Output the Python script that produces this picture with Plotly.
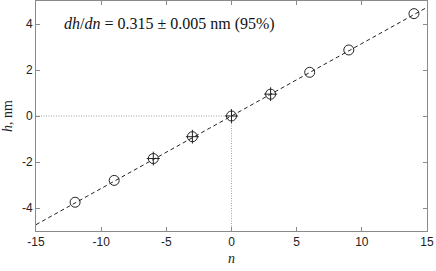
import plotly.graph_objects as go

# data
n_plain = [-12, -9, 6, 9, 14]
h_plain = [-3.75, -2.8, 1.9, 2.87, 4.45]
n_err = [-6, -3, 0, 3]
h_err = [-1.85, -0.9, 0.0, 0.95]
n_err_x = [0.5, 0.5, 0.5, 0.5]
h_err_y = [0.3, 0.3, 0.3, 0.3]
slope = 0.315
fit_n = [-15, 15]
fit_h = [slope * v for v in fit_n]
x_ticks = [-15, -10, -5, 0, 5, 10, 15]
x_ticktext = ["-15", "-10", "-5", "0", "5", "10", "15"]
y_ticks = [-4, -2, 0, 2, 4]
y_ticktext = ["-4", "-2", "0", "2", "4"]

fig = go.Figure()
# dotted reference lines
fig.add_trace(go.Scatter(x=[-15, 0, 0], y=[0, 0, -5], mode="lines",
                         line=dict(color="#777777", width=0.7, dash="1px,1.5px"),
                         showlegend=False, hoverinfo="skip"))
# fit line
fig.add_trace(go.Scatter(x=fit_n, y=fit_h, mode="lines",
                         line=dict(color="#222222", width=1, dash="4px,3px"),
                         showlegend=False))
# plain points
fig.add_trace(go.Scatter(x=n_plain, y=h_plain, mode="markers",
                         marker=dict(symbol="circle-open", size=10,
                                     color="#222222", line=dict(width=1)),
                         showlegend=False))
# points with error bars
fig.add_trace(go.Scatter(x=n_err, y=h_err, mode="markers",
                         marker=dict(symbol="circle-open", size=10,
                                     color="#222222", line=dict(width=1)),
                         error_x=dict(type="data", array=n_err_x, width=0,
                                      thickness=1, color="#222222"),
                         error_y=dict(type="data", array=h_err_y, width=0,
                                      thickness=1, color="#222222"),
                         showlegend=False))

fig.add_annotation(x=0.066, y=0.9, xref="paper", yref="paper",
                   xanchor="left", yanchor="middle", showarrow=False,
                   text="<i>dh</i>/<i>dn</i> = 0.315 ± 0.005 nm (95%)",
                   font=dict(family="Liberation Serif", size=16, color="#111111"))

axis_common = dict(showgrid=False, zeroline=False, showline=True, mirror="ticks",
                   linecolor="#8a8a8a", linewidth=1, ticks="inside", ticklen=4,
                   tickcolor="#8a8a8a", ticklabeloverflow="allow",
                   tickfont=dict(family="Liberation Sans", size=12, color="#222222"))

fig.update_layout(
    width=436, height=271,
    margin=dict(l=36, r=9, t=1, b=40),
    plot_bgcolor="white", paper_bgcolor="white",
    xaxis=dict(range=[-15, 15], tickvals=x_ticks, ticktext=x_ticktext,
               title=dict(text="<i>n</i>", standoff=4,
                          font=dict(family="Liberation Serif", size=14, color="#222222")),
               **axis_common),
    yaxis=dict(range=[-5, 5], tickvals=y_ticks, ticktext=y_ticktext,
               title=dict(text="<i>h</i>, nm", standoff=6,
                          font=dict(family="Liberation Serif", size=14, color="#222222")),
               **axis_common),
)

fig.write_html("out.html", config={"displayModeBar": False},
               post_script="document.body.style.margin='0px';")
